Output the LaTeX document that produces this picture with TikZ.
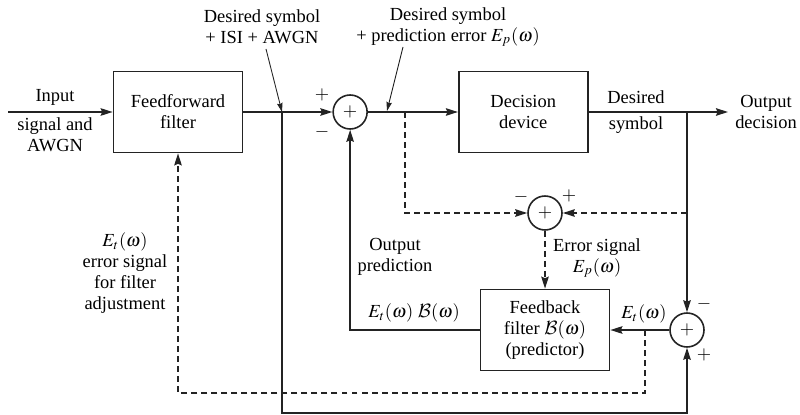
\documentclass[tikz,border=0pt]{standalone}
\usepackage{mathptmx}
\DeclareMathAlphabet{\mathcal}{OMS}{cmsy}{m}{n}
\usepackage{fontspec}
\setmainfont{Liberation Serif}
\usepackage{tikz}
\usetikzlibrary{positioning, arrows.meta, calc}
\newcommand{\lblsize}{\fontsize{10.5pt}{12pt}\selectfont}
\definecolor{inkgray}{RGB}{35, 35, 35}
\tikzset{
  % Filter / decision box
  block/.style={
    rectangle, minimum width=2.58cm, minimum height=1.62cm,
    draw=inkgray, line width=1pt,
    font=\lblsize, align=center, text=black
  },
  % Summing junction
  sumnode/.style={
    circle, minimum size=0.68cm, inner sep=0pt,
    draw=inkgray, line width=0.9pt, font=\lblsize
  },
  % Arrow styles
  arr/.style={-{Stealth[length=2.4mm, width=1.5mm, inset=0.3mm]}, line width=0.9pt, color=inkgray},
  dasharr/.style={arr, dash pattern=on 3.4pt off 2.3pt},
  notearr/.style={-{Stealth[length=1.8mm, width=1.1mm, inset=0.2mm]}, line width=0.5pt, color=inkgray},
  % Text labels
  lbl/.style={font=\lblsize, align=center, text=black, inner sep=0pt},
}
\begin{document}
\begin{tikzpicture}[x=0.02cm, y=-0.02cm, node distance=1.78cm and 1.78cm]
  \useasboundingbox (0,0) rectangle (800,415);
  % blocks
  \node[block] (ff) at (178,112) {Feedforward\\filter};
  \node[sumnode, right=1.78cm of ff] (s1) {$+$};
  \node[block, right=1.8cm of s1] (dec) {Decision\\device};
  \node[sumnode] (s2) at (545,213) {$+$};
  \node[block] (fb) at (545,330) {Feedback\\filter $\mathcal{B}(\omega)$\\(predictor)};
  \node[sumnode] (s3) at (687,330) {$+$};
  % ends and branch points
  \coordinate (in)   at (8,112);
  \coordinate (out)  at (728,112);
  \coordinate (tapA) at (282,112);
  \coordinate (tapB) at (405,112);
  \coordinate (tapC) at (687,112);
  \coordinate (tapD) at (645,330);
  \coordinate (noteA) at (266,49);
  \coordinate (noteB) at (403,47);
  % signal path
  \draw[arr] (in) -- (ff);
  \draw[arr] (ff) -- (s1);
  \draw[arr] (s1) -- (dec);
  \draw[arr] (dec) -- (out);
  \draw[arr] (tapC) -- (s3);
  \draw[arr] (s3) -- (fb);
  \draw[arr] (fb.west) -| (s1);
  \draw[arr] (tapA) -- ++(0,301) -| (s3);
  % error paths
  \draw[dasharr] (tapB) |- (s2);
  \draw[dasharr] (tapC |- s2) -- (s2);
  \draw[dasharr] (s2) -- (fb);
  \draw[dasharr] (tapD) -- ++(0,63) -| (ff);
  % annotations
  \draw[notearr] (noteA) -- (tapA);
  \draw[notearr] (noteB) -- (387,111);
  \node[lbl] (inTop) at (55,97) {Input};
  \node[lbl] (inBot) at (55,135) {signal and\\AWGN};
  \node[lbl] (annA) at (262,27) {Desired symbol\\+ ISI + AWGN};
  \node[lbl] (annB) at (448,27) {Desired symbol\\+ prediction error $E_p(\omega)$};
  \node[lbl] (dsTop) at (636,97) {Desired};
  \node[lbl] (dsBot) at (636,125) {symbol};
  \node[lbl] (outLbl) at (766,112) {Output\\decision};
  \node[lbl] (errLbl) at (597,258) {Error signal\\$E_p(\omega)$};
  \node[lbl] (predLbl) at (395,257) {Output\\prediction};
  \node[lbl] (prodLbl) at (414,313) {$E_t(\omega)\ \mathcal{B}(\omega)$};
  \node[lbl] (etLbl) at (644,314) {$E_t(\omega)$};
  \node[lbl] (adjLbl) at (125,273) {$E_t(\omega)$\\error signal\\for filter\\adjustment};
  % signs
  \node[lbl] (s1p) at (322,95) {$+$};
  \node[lbl] (s1m) at (322,132) {$-$};
  \node[lbl] (s2m) at (521,197) {$-$};
  \node[lbl] (s2p) at (569,196) {$+$};
  \node[lbl] (s3m) at (704,304) {$-$};
  \node[lbl] (s3p) at (704,355) {$+$};
\end{tikzpicture}
\end{document}
